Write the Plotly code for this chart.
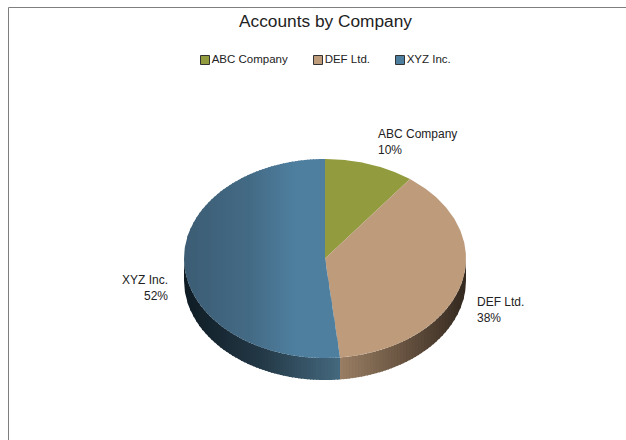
import numpy as np
import plotly.graph_objects as go

title = "Accounts by Company"
categories = ["ABC Company", "DEF Ltd.", "XYZ Inc."]
values = [10.3, 38, 51.7]
percent_labels = ["10%", "38%", "52%"]
top_colors = ["#929c3e", "#bd9b7b", "#4f7f9f"]

W, H = 626, 440
cx, cy, rx, ry, depth = 325, 258.5, 141, 99.5, 22


def hex2rgb(h):
    return np.array([int(h[i:i + 2], 16) for i in (1, 3, 5)], float)


def ramp(x, stops):
    xs = [s[0] for s in stops]
    c = [np.interp(x, xs, [hex2rgb(s[1])[k] for s in stops]) for k in range(3)]
    return "rgb(%d,%d,%d)" % tuple(c)


def pt(t):
    return cx + rx * np.sin(t), cy - ry * np.cos(t)


def clip(poly, a, b):
    def one(P, keep, edge):
        out = []
        for i in range(len(P)):
            p, q = P[i], P[(i + 1) % len(P)]
            kp, kq = keep(p), keep(q)
            if kp:
                out.append(p)
            if kp != kq:
                s = (edge - p[0]) / (q[0] - p[0])
                out.append((edge, p[1] + s * (q[1] - p[1])))
        return out
    P = one(poly, lambda p: p[0] >= a, a)
    return one(P, lambda p: p[0] <= b, b) if P else []


fig = go.Figure()


def poly_trace(xs, ys, color):
    fig.add_trace(go.Scatter(x=list(xs), y=list(ys), mode="lines", fill="toself",
                             fillcolor=color, line=dict(width=0),
                             hoverinfo="skip", showlegend=False))


def strips(poly, stops, step=3.0):
    xs = [p[0] for p in poly]
    edges = np.arange(min(xs), max(xs) + step, step)
    for e0, e1 in zip(edges[:-1], edges[1:]):
        piece = clip(poly, e0, min(e1 + 1.0, max(xs)))
        if len(piece) > 2:
            px, py = zip(*piece)
            poly_trace(list(px) + [px[0]], list(py) + [py[0]], ramp((e0 + e1) / 2, stops))


fractions = np.array(values, float) / sum(values)
ends = np.cumsum(fractions) * 2 * np.pi
starts = np.concatenate([[0], ends[:-1]])

wall_stops = {
    1: [(340, "#9a7f64"), (400, "#6b5643"), (465, "#352a20")],
    2: [(184, "#0f1c24"), (260, "#233846"), (340, "#45697f")],
}
top_stops = {
    2: [(184, "#3c5d74"), (250, "#446b86"), (295, "#4f7f9f"), (340, "#4f7f9f")],
}

# side wall
for i in (1, 2):
    a = max(starts[i], np.pi / 2)
    b = min(ends[i], 3 * np.pi / 2)
    ts = np.linspace(a, b, 90)
    x, y = pt(ts)
    poly = list(zip(x, y)) + list(zip(x[::-1], (y + depth)[::-1]))
    strips(poly, wall_stops[i])

# top face
for i in range(3):
    ts = np.linspace(starts[i], ends[i], 160)
    xs, ys = pt(ts)
    poly = [(cx, cy)] + list(zip(xs, ys))
    if i in top_stops:
        strips(poly, top_stops[i])
    else:
        px, py = zip(*poly)
        poly_trace(list(px) + [px[0]], list(py) + [py[0]], top_colors[i])

# legend
legend_x = [205, 318, 400]
legend_y = 60
fig.add_trace(go.Scatter(
    x=legend_x, y=[legend_y] * 3, mode="markers+text",
    marker=dict(symbol="square", size=9, color=top_colors, line=dict(color="#333333", width=1)),
    text=categories, textposition="middle right",
    textfont=dict(family="Liberation Sans, Arial", size=11.5, color="#222222"),
    hoverinfo="skip", showlegend=False))

# data labels
label_pos = [(376.5, 135, "left"), (475.5, 303, "left"), (168.5, 281, "right")]
annotations = []
for cat, pct, (x, y, al) in zip(categories, percent_labels, label_pos):
    annotations.append(dict(x=x, y=y + 7, xref="x", yref="y", text=f"{cat}<br>{pct}",
                            showarrow=False, align=al, borderpad=0,
                            xanchor="left" if al == "left" else "right", yanchor="middle",
                            font=dict(family="Liberation Sans, Arial", size=12, color="#222222")))

annotations.append(dict(x=325.5, y=21, xref="x", yref="y", text=title, showarrow=False,
                        font=dict(family="Liberation Sans, Arial", size=17.3, color="#222222")))

shapes = [
    dict(type="line", xref="x", yref="y", x0=8.5, x1=8.5, y0=7.5, y1=440, line=dict(color="#7f7f7f", width=1)),
    dict(type="line", xref="x", yref="y", x0=8.5, x1=626, y0=7.5, y1=7.5, line=dict(color="#7f7f7f", width=1)),
]

fig.update_layout(
    width=W, height=H, margin=dict(l=0, r=0, t=0, b=0),
    paper_bgcolor="white", plot_bgcolor="white", showlegend=False,
    xaxis=dict(range=[0, W], visible=False, fixedrange=True),
    yaxis=dict(range=[H, 0], visible=False, fixedrange=True),
    annotations=annotations, shapes=shapes,
)
fig.write_html("out.html", config=dict(displayModeBar=False),
               post_script="document.body.style.margin='0';document.documentElement.style.overflow='hidden';")
